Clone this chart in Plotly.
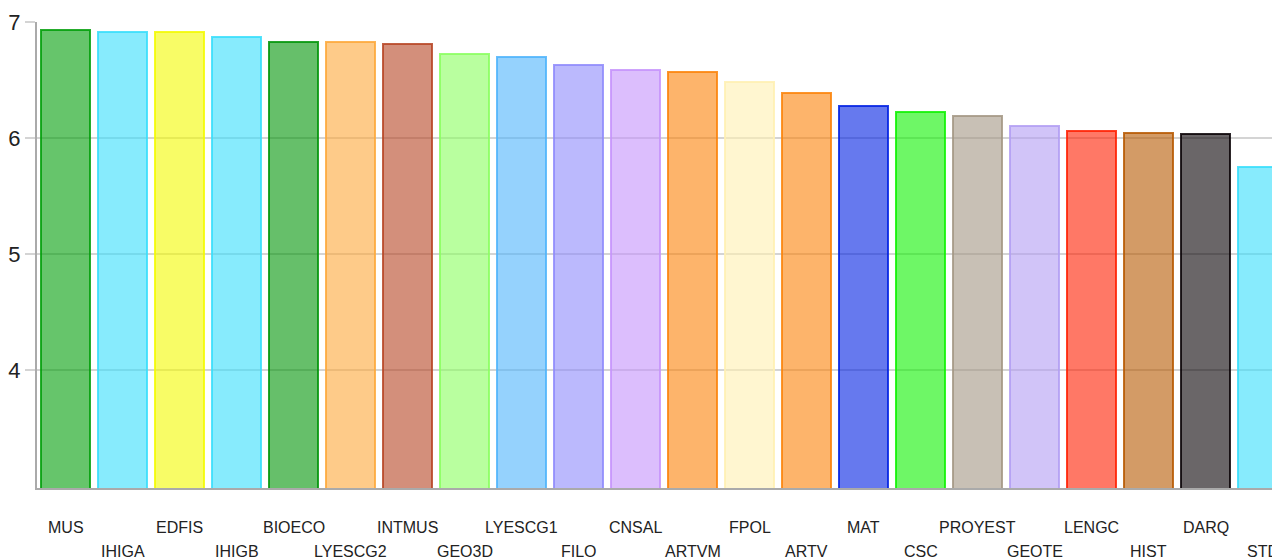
import plotly.graph_objects as go

categories = ["MUS", "IHIGA", "EDFIS", "IHIGB", "BIOECO", "LYESCG2", "INTMUS", "GEO3D",
              "LYESCG1", "FILO", "CNSAL", "ARTVM", "FPOL", "ARTV", "MAT", "CSC",
              "PROYEST", "GEOTE", "LENGC", "HIST", "DARQ", "STD"]
values = [6.935, 6.91, 6.91, 6.87, 6.825, 6.825, 6.81, 6.72,
          6.70, 6.63, 6.585, 6.57, 6.485, 6.39, 6.276, 6.22,
          6.19, 6.10, 6.063, 6.046, 6.034, 5.75]
base_colors = [(0, 158, 8), (55, 222, 252), (243, 250, 0), (55, 222, 252), (0, 148, 7),
               (253, 168, 58), (182, 68, 35), (138, 255, 95), (78, 180, 252), (142, 138, 252),
               (197, 147, 252), (252, 130, 8), (255, 240, 177), (252, 130, 8), (0, 32, 227),
               (13, 242, 0), (163, 150, 132), (178, 157, 243), (255, 30, 0), (182, 88, 0),
               (7, 0, 4), (55, 222, 252)]
y_ticks = [4, 5, 6, 7]

fills = [f"rgba({r},{g},{b},0.6)" for r, g, b in base_colors]
borders = [f"rgba({r},{g},{b},0.85)" for r, g, b in base_colors]

fig = go.Figure(go.Bar(
    x=categories, y=values, width=0.86,
    marker=dict(color=fills, line=dict(color=borders, width=2)),
))

annotations = []
for i, c in enumerate(categories):
    annotations.append(dict(
        x=c, xref="x", y=0, yref="paper", yanchor="middle",
        yshift=-39 if i % 2 == 0 else -63,
        text=c, showarrow=False,
        font=dict(family="Liberation Sans, Arial, sans-serif", size=16, color="#222"),
    ))

# the page body has an 8px margin, so the figure is sized to fill the rest of the window
fig.update_layout(
    width=1272, height=550,
    margin=dict(l=29, r=0, t=14, b=70, autoexpand=False),
    paper_bgcolor="white", plot_bgcolor="white",
    showlegend=False, bargap=0,
    annotations=annotations,
    font=dict(family="Liberation Sans, Arial, sans-serif", color="#222"),
)
fig.update_xaxes(
    range=[-0.5, 21.307], showticklabels=False, showgrid=False, automargin=False,
    showline=True, linecolor="#aaaaaa", linewidth=2, ticks="", zeroline=False,
)
fig.update_yaxes(
    range=[2.983, 7], tickvals=y_ticks, ticktext=[str(v) for v in y_ticks],
    showgrid=True, gridcolor="#d4d4d4", gridwidth=1.5, automargin=False,
    showline=True, linecolor="#aaaaaa", linewidth=2,
    ticks="outside", ticklen=10, tickcolor="#d4d4d4", tickwidth=1.5,
    tickfont=dict(size=22, color="#222"), zeroline=False,
)

fig.write_html("out.html")
